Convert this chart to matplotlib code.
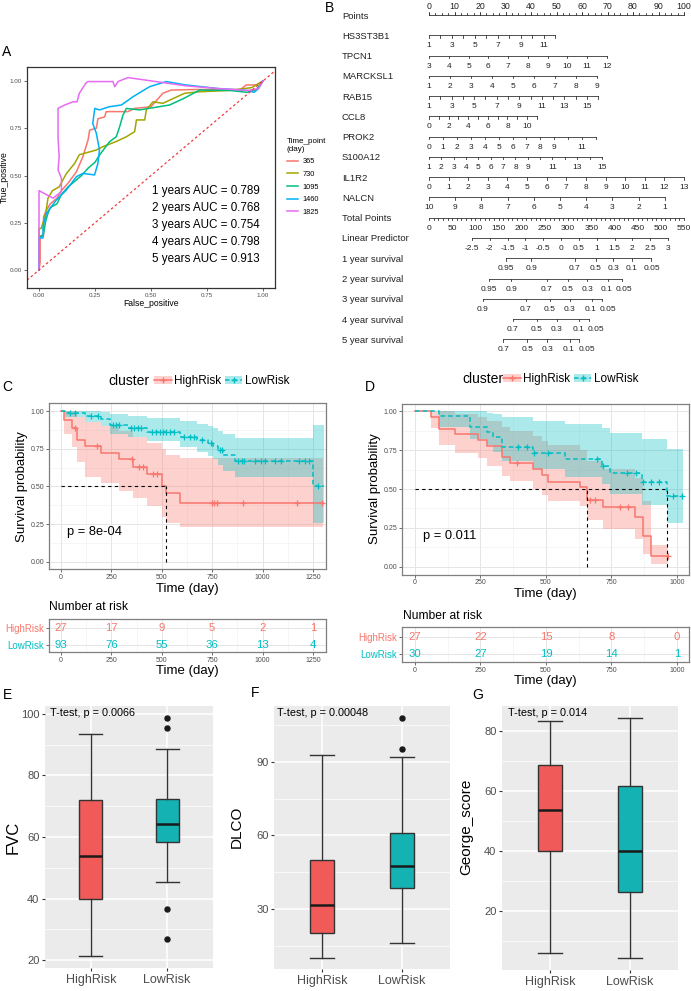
import numpy as np
import matplotlib
matplotlib.use("Agg")
import matplotlib.pyplot as plt
from matplotlib.patches import Patch
from matplotlib.lines import Line2D

plt.rcParams['font.family'] = ['Liberation Sans', 'DejaVu Sans']

# ===================== DATA =====================
# Panel A: time-dependent ROC curves
roc_labels = ["365", "730", "1095", "1460", "1825"]
roc365_fpr = [0, 0.005, 0.005, 0.02, 0.02, 0.03, 0.05, 0.08, 0.10, 0.13, 0.167, 0.196, 0.219, 0.226, 0.256, 0.263,
              0.293, 0.30, 0.397, 0.427, 0.50, 0.553, 0.59, 0.70, 0.90, 0.925, 0.97, 1.0]
roc365_tpr = [0, 0.04, 0.18, 0.18, 0.28, 0.31, 0.35, 0.38, 0.42, 0.46, 0.52, 0.60, 0.688, 0.74, 0.75, 0.80,
              0.81, 0.838, 0.838, 0.855, 0.864, 0.935, 0.952, 0.955, 0.955, 0.979, 0.979, 1.0]
roc730_fpr = [0, 0, 0.01, 0.02, 0.03, 0.04, 0.06, 0.09, 0.122, 0.159, 0.18, 0.256, 0.286, 0.345, 0.39, 0.427,
              0.435, 0.472, 0.479, 0.509, 0.553, 0.65, 0.717, 0.85, 0.95, 1.0]
roc730_tpr = [0, 0.22, 0.22, 0.26, 0.30, 0.38, 0.42, 0.44, 0.51, 0.564, 0.61, 0.635, 0.653, 0.68, 0.705, 0.732,
              0.794, 0.794, 0.847, 0.89, 0.882, 0.935, 0.943, 0.95, 0.965, 1.0]
roc1095_fpr = [0, 0, 0.02, 0.03, 0.04, 0.05, 0.08, 0.10, 0.13, 0.16, 0.19, 0.22, 0.25, 0.27, 0.315, 0.345, 0.36,
               0.375, 0.39, 0.449, 0.583, 0.65, 0.717, 0.85, 0.93, 0.97, 1.0]
roc1095_tpr = [0, 0.17, 0.19, 0.26, 0.30, 0.33, 0.35, 0.40, 0.44, 0.47, 0.50, 0.54, 0.57, 0.608, 0.679, 0.705, 0.758,
               0.82, 0.855, 0.847, 0.873, 0.91, 0.952, 0.95, 0.94, 0.955, 1.0]
roc1460_fpr = [0, 0, 0.018, 0.018, 0.033, 0.077, 0.122, 0.167, 0.196, 0.248, 0.263, 0.27, 0.256, 0.24, 0.249,
               0.27, 0.315, 0.368, 0.42, 0.494, 0.568, 0.65, 0.8, 0.93, 0.96, 0.98, 1.0]
roc1460_tpr = [0, 0.17, 0.17, 0.229, 0.30, 0.37, 0.423, 0.494, 0.511, 0.503, 0.564, 0.635, 0.723, 0.776, 0.855,
               0.847, 0.864, 0.873, 0.917, 0.97, 0.997, 0.98, 0.96, 0.95, 0.94, 0.96, 1.0]
roc1825_fpr = [0, 0, 0.063, 0.10, 0.10, 0.085, 0.09, 0.085, 0.085, 0.115, 0.152, 0.17, 0.18, 0.21, 0.219, 0.33,
               0.338, 0.353, 0.397, 0.658, 0.80, 0.93, 0.96, 0.98, 1.0]
roc1825_tpr = [0, 0.42, 0.38, 0.415, 0.485, 0.53, 0.60, 0.70, 0.855, 0.873, 0.89, 0.89, 0.935, 0.99, 0.997, 0.997,
               0.97, 0.997, 1.018, 0.974, 0.96, 0.95, 0.955, 0.96, 1.0]
auc_years = [1, 2, 3, 4, 5]
auc_values = [0.789, 0.768, 0.754, 0.798, 0.913]

# Panel B: nomogram
nomo_vars = ["HS3ST3B1", "TPCN1", "MARCKSL1", "RAB15", "CCL8", "PROK2", "S100A12", "IL1R2", "NALCN"]
nomo_vmin = [1, 3, 1, 1, 0, 0, 1, 0, 10]
nomo_vmax = [12, 12, 9, 16, 11, 12, 15, 13, 1]
nomo_pts_max = [49.6, 69.8, 65.9, 66.4, 42.3, 65.5, 67.8, 100.0, 92.5]
nomo_labels = [
    [1, 3, 5, 7, 9, 11],
    [3, 4, 5, 6, 7, 8, 9, 10, 11, 12],
    [1, 2, 3, 4, 5, 6, 7, 8, 9],
    [1, 3, 5, 7, 9, 11, 13, 15],
    [0, 2, 4, 6, 8, 10],
    [0, 1, 2, 3, 4, 5, 6, 7, 8, 9, 11],
    [1, 2, 3, 4, 5, 6, 7, 8, 9, 11, 13, 15],
    list(range(0, 14)),
    [10, 9, 8, 7, 6, 5, 4, 3, 2, 1],
]
total_points_max = 550
lp_values = [-2.5, -2, -1.5, -1, -0.5, 0, 0.5, 1, 1.5, 2, 2.5, 3]
lp_total_range = [92.7, 515.5]
surv_rows = ["1 year survival", "2 year survival", "3 year survival", "4 year survival", "5 year survival"]
surv_probs = [
    ["0.95", "0.9", "0.7", "0.5", "0.3", "0.1", "0.05"],
    ["0.95", "0.9", "0.7", "0.5", "0.3", "0.1", "0.05"],
    ["0.9", "0.7", "0.5", "0.3", "0.1", "0.05"],
    ["0.7", "0.5", "0.3", "0.1", "0.05"],
    ["0.7", "0.5", "0.3", "0.1", "0.05"],
]
surv_total_pts = [
    [166.1, 220.0, 314.9, 360.2, 396.9, 437.8, 478.8],
    [129.4, 176.9, 254.5, 299.8, 340.8, 386.1, 416.3],
    [115.8, 209.2, 261.0, 304.1, 350.9, 373.1],
    [180.5, 232.3, 275.4, 324.2, 345.1],
    [160.3, 212.0, 255.2, 304.1, 324.2],
]
surv_label_pts = [
    [166.1, 220.0, 314.9, 360.2, 396.9, 437.8, 480.0],
    [129.4, 176.9, 254.5, 299.8, 340.8, 384.0, 420.5],
    [115.8, 209.2, 261.0, 304.1, 348.5, 386.1],
    [180.5, 232.3, 275.4, 322.0, 359.6],
    [160.3, 212.0, 255.2, 302.0, 340.2],
]

# Panel C: KM (training)
c_high_t = [0, 15, 53, 81, 119, 198, 288, 355, 425, 503, 519, 590, 1300]
c_high_s = [1, 0.94, 0.885, 0.808, 0.768, 0.723, 0.681, 0.63, 0.58, 0.504, 0.454, 0.392, 0.392]
c_high_up = [1, 1, 1, 0.96, 0.93, 0.90, 0.87, 0.83, 0.79, 0.75, 0.71, 0.69, 0.69]
c_high_lo = [1, 0.85, 0.76, 0.66, 0.565, 0.52, 0.47, 0.42, 0.37, 0.30, 0.26, 0.228, 0.228]
c_high_cens = [69, 177, 351, 388, 405, 458, 475, 747, 760, 772, 904, 1169, 1296]
c_low_t = [0, 20, 120, 200, 243, 334, 425, 590, 673, 731, 756, 780, 805, 863, 1252, 1305]
c_low_s = [1.0, 0.985, 0.967, 0.945, 0.907, 0.889, 0.863, 0.83, 0.808, 0.786, 0.77, 0.741, 0.708, 0.668, 0.504, 0.504]
c_low_up = [1, 1, 1, 0.995, 0.98, 0.97, 0.955, 0.935, 0.915, 0.90, 0.89, 0.87, 0.85, 0.82, 0.907, 0.907]
c_low_lo = [1, 0.96, 0.93, 0.90, 0.85, 0.83, 0.80, 0.76, 0.73, 0.70, 0.68, 0.64, 0.60, 0.565, 0.26, 0.26]
c_low_cens = [45, 70, 150, 185, 260, 275, 290, 345, 360, 380, 395, 450, 470, 490, 505, 520, 540, 560, 610,
              640, 660, 700, 745, 790, 800, 880, 900, 910, 960, 990, 1010, 1060, 1090, 1180, 1210, 1230, 1275]
c_risk_times = [0, 250, 500, 750, 1000, 1250]
c_risk_high = [27, 17, 9, 5, 2, 1]
c_risk_low = [93, 76, 55, 36, 13, 4]
c_pval = "p = 8e-04"

# Panel D: KM (validation)
d_high_t = [0, 61, 93, 153, 242, 274, 331, 363, 452, 484, 509, 630, 655, 719, 840, 869, 901, 967]
d_high_s = [1, 0.963, 0.889, 0.852, 0.815, 0.778, 0.704, 0.667, 0.63, 0.59, 0.547, 0.515, 0.43, 0.387, 0.323,
            0.20, 0.07, 0.07]
d_high_up = [1, 1, 1, 0.98, 0.96, 0.94, 0.90, 0.87, 0.84, 0.81, 0.78, 0.75, 0.68, 0.63, 0.57, 0.42, 0.14, 0.14]
d_high_lo = [1, 0.89, 0.78, 0.73, 0.70, 0.65, 0.585, 0.55, 0.50, 0.46, 0.42, 0.39, 0.30, 0.24, 0.18, 0.08, 0.02,
             0.02]
d_high_cens = [390, 667, 687, 782, 814, 967]
d_low_t = [0, 93, 210, 274, 299, 331, 452, 573, 712, 744, 865, 961, 1022]
d_low_s = [1, 0.967, 0.9, 0.867, 0.835, 0.771, 0.733, 0.692, 0.65, 0.60, 0.543, 0.455, 0.455]
d_low_up = [1, 1, 1, 0.99, 0.98, 0.96, 0.94, 0.92, 0.89, 0.86, 0.82, 0.756, 0.756]
d_low_lo = [1, 0.90, 0.82, 0.78, 0.74, 0.68, 0.63, 0.58, 0.53, 0.47, 0.40, 0.28, 0.28]
d_low_cens = [394, 426, 455, 509, 696, 719, 810, 842, 872, 901, 931, 986, 1020]
d_risk_times = [0, 250, 500, 750, 1000]
d_risk_high = [27, 22, 15, 8, 0]
d_risk_low = [30, 27, 19, 14, 1]
d_pval = "p = 0.011"

# Panels E-G: box plots
groups = ["HighRisk", "LowRisk"]
fvc_stats = [dict(whislo=21.4, q1=40.0, med=53.9, q3=72.0, whishi=93.4, fliers=[]),
             dict(whislo=45.3, q1=58.3, med=64.1, q3=72.3, whishi=88.6, fliers=[98.6, 95.5, 36.7, 26.9])]
dlco_stats = [dict(whislo=10.3, q1=20.2, med=31.7, q3=50.1, whishi=92.8, fliers=[]),
              dict(whislo=16.4, q1=38.6, med=47.7, q3=60.9, whishi=91.9, fliers=[95.1, 107.7])]
george_stats = [dict(whislo=6.0, q1=39.9, med=53.6, q3=68.6, whishi=83.2, fliers=[]),
                dict(whislo=4.1, q1=26.3, med=39.9, q3=61.7, whishi=84.1, fliers=[])]
ttests = ["T-test, p = 0.0066", "T-test, p = 0.00048", "T-test, p = 0.014"]

# ===================== STYLE =====================
RED = "#F8766D"
TEAL = "#00BFC4"
ROC_COLORS = ["#F8766D", "#A3A500", "#00BF7D", "#00B0F6", "#E76BF3"]
BOX_RED = "#F05B5A"
BOX_TEAL = "#14B2B3"
TICKC = "#4D4D4D"

W, H = 691, 991
fig = plt.figure(figsize=(W / 100, H / 100), dpi=100)


def px_axes(l, t, r, b):
    return fig.add_axes([l / W, 1 - b / H, (r - l) / W, (b - t) / H])


def ftext(x, y, s, **kw):
    return fig.text(x / W, 1 - y / H, s, **kw)


# panel letters
for lab, (x, y) in zip("ABCDEFG", [(2, 52), (325, 8), (2, 387), (365, 387), (3, 695), (251, 693), (472, 695)]):
    ftext(x, y, lab, fontsize=10, ha="left", va="center")

# ===================== A: ROC =====================
axA = px_axes(27, 67, 275, 288)
rocs = [(roc365_fpr, roc365_tpr), (roc730_fpr, roc730_tpr), (roc1095_fpr, roc1095_tpr),
        (roc1460_fpr, roc1460_tpr), (roc1825_fpr, roc1825_tpr)]
for (fx, ty), c, lab in zip(rocs, ROC_COLORS, roc_labels):
    axA.plot(fx, ty, color=c, lw=1.1, label=lab)
axA.axline((0, 0), (1, 1), color="#F03B3B", lw=0.9, ls=(0, (2, 2)))
axA.set_xlim(-0.0536, 1.0536)
axA.set_ylim(-0.095, 1.074)
ticks = [0, 0.25, 0.5, 0.75, 1.0]
axA.set_xticks(ticks)
axA.set_xticklabels(["%.2f" % v for v in ticks])
axA.set_yticks(ticks)
axA.set_yticklabels(["%.2f" % v for v in ticks])
axA.tick_params(labelsize=4.5, labelcolor=TICKC, length=2, width=0.5, color="#333333", pad=1.5)
for sp in axA.spines.values():
    sp.set_color("#333333")
    sp.set_linewidth(0.9)
axA.set_xlabel("False_positive", fontsize=6.2, labelpad=1)
axA.set_ylabel("True_positive", fontsize=6.2, labelpad=1)
for i, (yr, v) in enumerate(zip(auc_years, auc_values)):
    axA.text(0.505, 0.42 - i * 0.0905, "%d years AUC = %.3f" % (yr, v), fontsize=8.4, ha="left", va="center")
legA = axA.legend(title="Time_point\n(day)", loc="upper left", bbox_to_anchor=(283 / W, 1 - 134 / H),
                  bbox_transform=fig.transFigure, frameon=False, fontsize=5.3, title_fontsize=5.8,
                  handlelength=1.6, handletextpad=0.6, labelspacing=0.75, borderpad=0, alignment="left")

# ===================== B: Nomogram =====================
axB = px_axes(429, 0, 684, 360)
axB.set_xlim(0, 100)
axB.set_ylim(17.02, -0.74)
axB.axis("off")
LC = "#333333"
LW = 0.6
TL = 0.12
NF = 6.0
LF = 6.8
lab_x = (342 - 429) / 2.55
row_names = ["Points"] + nomo_vars + ["Total Points", "Linear Predictor"] + surv_rows
for i, nm in enumerate(row_names):
    axB.text(lab_x, i + 0.05, nm, fontsize=LF, ha="left", va="center", clip_on=False, color="#222222")

# Points row
axB.plot([0, 100], [0, 0], color=LC, lw=LW, clip_on=False)
for p in np.arange(0, 101, 2.5):
    axB.plot([p, p], [0, -0.09], color=LC, lw=LW, clip_on=False)
for p in range(0, 101, 10):
    axB.plot([p, p], [0, -0.13], color=LC, lw=LW, clip_on=False)
    axB.text(p, -0.40, str(p), fontsize=NF + 0.3, ha="center", va="center", clip_on=False, color="#222222")


def nomo_row(i, positions, labels_pos, labels):
    axB.plot([min(positions), max(positions)], [i, i], color=LC, lw=LW, clip_on=False)
    for p in positions:
        axB.plot([p, p], [i, i + TL], color=LC, lw=LW, clip_on=False)
    for p, s in zip(labels_pos, labels):
        axB.text(p, i + 0.52, s, fontsize=NF, ha="center", va="center", clip_on=False, color="#222222")


for k, nm in enumerate(nomo_vars):
    v0, v1, pm = nomo_vmin[k], nomo_vmax[k], nomo_pts_max[k]
    step = 1 if v1 > v0 else -1
    vals = np.arange(v0, v1 + step, step)
    pos = [(v - v0) / (v1 - v0) * pm for v in vals]
    lpos = [(v - v0) / (v1 - v0) * pm for v in nomo_labels[k]]
    nomo_row(k + 1, pos, lpos, [str(v) for v in nomo_labels[k]])

# Total points
r = len(nomo_vars) + 1
tp_vals = np.arange(0, total_points_max + 1, 10)
tp_lab = np.arange(0, total_points_max + 1, 50)
nomo_row(r, [v / total_points_max * 100 for v in tp_vals], [v / total_points_max * 100 for v in tp_lab],
         [str(v) for v in tp_lab])
# Linear predictor
r += 1
lp_pos = [(lp_total_range[0] + (v - lp_values[0]) / (lp_values[-1] - lp_values[0]) *
           (lp_total_range[1] - lp_total_range[0])) / total_points_max * 100 for v in lp_values]
nomo_row(r, lp_pos, lp_pos, [("%g" % v) for v in lp_values])
# survival rows
for k in range(len(surv_rows)):
    r += 1
    pos = [v / total_points_max * 100 for v in surv_total_pts[k]]
    lpos = [v / total_points_max * 100 for v in surv_label_pts[k]]
    nomo_row(r, pos, lpos, surv_probs[k])


# ===================== KM helpers =====================
def style_km(ax, xmax_tick):
    ax.set_facecolor("white")
    xt = np.arange(0, xmax_tick + 1, 250)
    ax.set_xticks(xt)
    ax.set_xticks(np.arange(125, xmax_tick + 126, 250), minor=True)
    ax.grid(True, which="major", color="#E5E5E5", lw=0.7)
    ax.grid(True, which="minor", color="#F0F0F0", lw=0.4)
    ax.set_axisbelow(True)
    ax.tick_params(which="minor", length=0)
    ax.tick_params(which="major", labelsize=5, labelcolor=TICKC, length=2, width=0.6, color="#555555", pad=1.5)
    for sp in ax.spines.values():
        sp.set_color("#7F7F7F")
        sp.set_linewidth(0.9)


def draw_km(ax, t, s, up, lo, cens, color, ls):
    t = np.asarray(t, float)
    s = np.asarray(s, float)
    ax.fill_between(t, lo, up, step="post", color=color, alpha=0.33, lw=0)
    ax.step(t, s, where="post", color=color, lw=1.1, ls=ls)
    cs = [s[np.searchsorted(t, c, side="right") - 1] for c in cens]
    ax.plot(cens, cs, ls="none", marker="+", color=color, ms=5, mew=0.9)
    below = np.where(s <= 0.5)[0]
    return t[below[0]] if len(below) else None


def km_panel(box, tbox, tylim, xlim, xmax_tick, high, low, risk_t, risk_h, risk_l, pval, pval_xy,
             leg_y, leg_title_x, leg_x, nar_xy):
    ax = px_axes(*box)
    style_km(ax, xmax_tick)
    ax.set_xlim(*xlim)
    ax.set_ylim(-0.05, 1.05)
    yt = [0, 0.25, 0.5, 0.75, 1.0]
    ax.set_yticks(yt)
    ax.set_yticklabels(["%.2f" % v for v in yt])
    ax.set_yticks([0.125, 0.375, 0.625, 0.875], minor=True)
    m1 = draw_km(ax, *high, RED, "-")
    m2 = draw_km(ax, *low, TEAL, (0, (3, 2)))
    meds = [m for m in (m1, m2) if m is not None]
    if meds:
        ax.plot([0, max(meds)], [0.5, 0.5], color="black", lw=0.8, ls=(0, (3, 3)))
        for m in meds:
            ax.plot([m, m], [0, 0.5], color="black", lw=0.8, ls=(0, (3, 3)))
    ax.text(pval_xy[0], pval_xy[1], pval, fontsize=9.3, ha="left", va="center")
    ax.set_xlabel("Time (day)", fontsize=9.5, labelpad=1)
    ax.set_ylabel("Survival probability", fontsize=9.5, labelpad=2)
    # legend
    ftext(leg_title_x, leg_y, "cluster", fontsize=10, ha="left", va="center")
    hh = (Patch(facecolor=RED, alpha=0.33, lw=0), Line2D([], [], color=RED, lw=1.1, marker="+", ms=5))
    hl = (Patch(facecolor=TEAL, alpha=0.33, lw=0), Line2D([], [], color=TEAL, lw=1.1, ls=(0, (3, 2)),
                                                          marker="+", ms=5))
    fig.legend([hh, hl], groups, ncol=2, loc="center left", bbox_to_anchor=(leg_x / W, 1 - leg_y / H),
               frameon=False, fontsize=8.5, handlelength=1.5, handletextpad=0.2, columnspacing=0.3,
               borderpad=0, borderaxespad=0)
    # risk table
    axt = px_axes(*tbox)
    style_km(axt, xmax_tick)
    axt.set_xlim(*xlim)
    axt.set_ylim(*tylim)
    axt.set_yticks([2, 1])
    axt.set_yticklabels(groups)
    for lbl, c in zip(axt.get_yticklabels(), [RED, TEAL]):
        lbl.set_color(c)
        lbl.set_fontsize(7)
    for tt, a, b in zip(risk_t, risk_h, risk_l):
        axt.text(tt, 2, str(a), color=RED, fontsize=8.2, ha="center", va="center")
        axt.text(tt, 1, str(b), color=TEAL, fontsize=8.2, ha="center", va="center")
    axt.set_xlabel("Time (day)", fontsize=9.5, labelpad=1)
    ftext(nar_xy[0], nar_xy[1], "Number at risk", fontsize=8.7, ha="left", va="center")
    return ax, axt


km_panel((49, 403.5, 326, 569.3), (49, 619, 326, 652), (0.58, 2.56), (-59.5, 1314.5), 1250,
         (c_high_t, c_high_s, c_high_up, c_high_lo, c_high_cens),
         (c_low_t, c_low_s, c_low_up, c_low_lo, c_low_cens),
         c_risk_times, c_risk_high, c_risk_low, c_pval, (30, 0.20),
         381, 108, 154, (49, 607))
km_panel((402, 403.5, 689, 574.5), (402, 627, 689, 662), (0.485, 2.61), (-49.6, 1045.8), 1000,
         (d_high_t, d_high_s, d_high_up, d_high_lo, d_high_cens),
         (d_low_t, d_low_s, d_low_up, d_low_lo, d_low_cens),
         d_risk_times, d_risk_high, d_risk_low, d_pval, (30, 0.20),
         379, 462, 503, (403, 616))


# ===================== E-G: box plots =====================
def box_panel(box, stats, ylim, majors, minors, ylabel, ylab_xy, ylab_fs, ttest, tt_xy):
    ax = px_axes(*box)
    ax.set_facecolor("#EBEBEB")
    ax.set_xlim(0.4, 2.6)
    ax.set_ylim(*ylim)
    ax.set_yticks(majors)
    ax.set_yticks(minors, minor=True)
    ax.set_xticks([1, 2])
    ax.grid(True, which="major", color="white", lw=1.1)
    ax.grid(True, which="minor", axis="y", color="white", lw=0.5)
    ax.set_axisbelow(True)
    for sp in ax.spines.values():
        sp.set_visible(False)
    bp = ax.bxp(stats, positions=[1, 2], widths=0.3, capwidths=0.3, patch_artist=True, manage_ticks=False,
                boxprops=dict(edgecolor="#333333", lw=1.0),
                whiskerprops=dict(color="#333333", lw=1.0),
                capprops=dict(color="#333333", lw=1.0),
                medianprops=dict(color="#1A1A1A", lw=1.8),
                flierprops=dict(marker="o", markerfacecolor="#1A1A1A", markeredgecolor="#1A1A1A", ms=3.6))
    for patch, c in zip(bp["boxes"], [BOX_RED, BOX_TEAL]):
        patch.set_facecolor(c)
    ax.set_xticklabels(groups)
    ax.tick_params(axis="x", labelsize=9, labelcolor=TICKC, length=2.5, width=0.8, color="#333333", pad=2)
    ax.tick_params(axis="y", labelsize=8, labelcolor=TICKC, length=2.5, width=0.8, color="#333333", pad=1.5)
    ax.tick_params(which="minor", length=0)
    ftext(ylab_xy[0], ylab_xy[1], ylabel, fontsize=ylab_fs, rotation=90, ha="center", va="center")
    ftext(tt_xy[0], tt_xy[1], ttest, fontsize=7.8, ha="left", va="center")
    return ax


box_panel((45, 706, 213, 968), fvc_stats, (17.4, 102.6), [20, 40, 60, 80, 100], [30, 50, 70, 90],
          "FVC", (13, 837), 12, ttests[0], (50, 713))
box_panel((274, 706, 450, 969), dlco_stats, (5.7, 112.6), [30, 60, 90], [15, 45, 75, 105],
          "DLCO", (237, 827), 11, ttests[1], (277, 713))
box_panel((502, 706, 678, 970), george_stats, (0.23, 88.2), [20, 40, 60, 80], [10, 30, 50, 70],
          "George_score", (466, 827), 11, ttests[2], (508, 713))

fig.savefig("out.png", dpi=100)
